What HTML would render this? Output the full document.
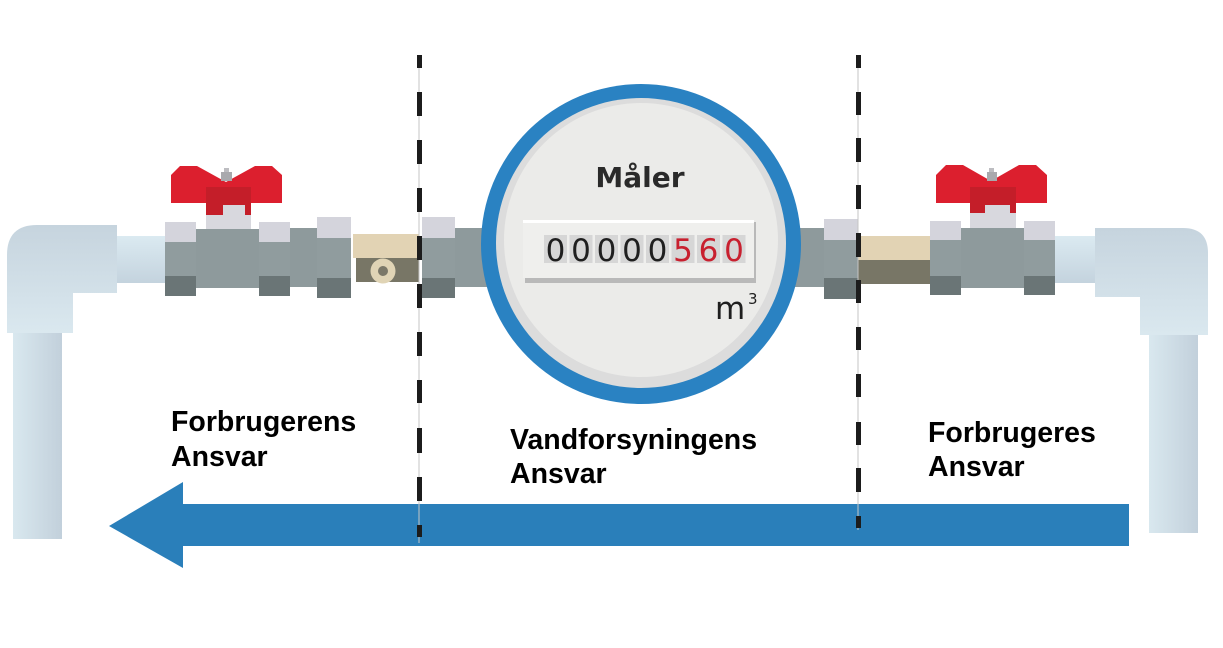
<!DOCTYPE html>
<html>
<head>
<meta charset="utf-8">
<style>
  html,body{margin:0;padding:0;background:#fff;}
  svg{display:block;}
</style>
</head>
<body>
<svg width="1223" height="648" viewBox="0 0 1223 648" xmlns="http://www.w3.org/2000/svg">
  <defs>
    <linearGradient id="elbowL" x1="0" y1="0" x2="0" y2="1">
      <stop offset="0" stop-color="#c6d4de"/>
      <stop offset="1" stop-color="#dae8ef"/>
    </linearGradient>
    <linearGradient id="vpipe" x1="0" y1="0" x2="1" y2="0">
      <stop offset="0" stop-color="#d9e8ef"/>
      <stop offset="1" stop-color="#c2d0db"/>
    </linearGradient>
    <linearGradient id="hpipe" x1="0" y1="0" x2="0" y2="1">
      <stop offset="0" stop-color="#dbeaf1"/>
      <stop offset="1" stop-color="#c4d3de"/>
    </linearGradient>
  </defs>

  <rect width="1223" height="648" fill="#fff"/>

  <!-- LEFT ELBOW & PIPES -->
  <rect x="13" y="330" width="49" height="209" fill="url(#vpipe)"/>
  <path d="M7,255 Q7,225 37,225 L117,225 L117,293 L73,293 L73,333 L7,333 Z" fill="url(#elbowL)"/>
  <rect x="117" y="236" width="48" height="47" fill="url(#hpipe)"/>

  <!-- left valve -->
  <rect x="196" y="229" width="63" height="59" fill="#8e9a9c"/>
  <rect x="165" y="222" width="31" height="20" fill="#d4d4dc"/>
  <rect x="165" y="242" width="31" height="34" fill="#909c9e"/>
  <rect x="165" y="276" width="31" height="20" fill="#6a7576"/>
  <rect x="259" y="222" width="31" height="20" fill="#d4d4dc"/>
  <rect x="259" y="242" width="31" height="34" fill="#909c9e"/>
  <rect x="259" y="276" width="31" height="20" fill="#6a7576"/>
  <rect x="206" y="213" width="45" height="16" fill="#d8d8de"/>
  <polygon points="180,166 197,166 226,182 255,166 272,166 282,175 282,203 171,203 171,175" fill="#dc1f2e"/>
  <rect x="206" y="187" width="45" height="28" fill="#c41e29"/>
  <rect x="223" y="205" width="22" height="10" fill="#d8d8de"/>
  <rect x="221" y="172" width="11" height="9" fill="#a9a9ad"/>
  <rect x="224" y="168" width="5" height="4" fill="#bdbdc1"/>

  <rect x="290" y="228" width="27" height="59" fill="#8e9a9c"/>
  <rect x="317" y="217" width="34" height="21" fill="#d4d4dc"/>
  <rect x="317" y="238" width="34" height="40" fill="#909c9e"/>
  <rect x="317" y="278" width="34" height="20" fill="#6a7576"/>
  <rect x="353" y="234" width="66" height="24" fill="#e2d3b4"/>
  <rect x="356" y="258" width="63" height="24" fill="#787666"/>
  <circle cx="383" cy="271" r="12.5" fill="#e0d4b5"/>
  <circle cx="383" cy="271" r="5" fill="#7b7868"/>

  <rect x="422" y="217" width="33" height="21" fill="#d4d4dc"/>
  <rect x="422" y="238" width="33" height="40" fill="#909c9e"/>
  <rect x="422" y="278" width="33" height="20" fill="#6a7576"/>
  <rect x="455" y="228" width="50" height="59" fill="#8e9a9c"/>

  <!-- RIGHT SIDE -->
  <rect x="780" y="228" width="44" height="59" fill="#8e9a9c"/>
  <rect x="824" y="219" width="34" height="21" fill="#d4d4dc"/>
  <rect x="824" y="240" width="34" height="38" fill="#909c9e"/>
  <rect x="824" y="278" width="34" height="21" fill="#6a7576"/>
  <rect x="858" y="236" width="72" height="24" fill="#e2d3b4"/>
  <rect x="858" y="260" width="72" height="24" fill="#787666"/>
  <rect x="961" y="228" width="63" height="60" fill="#8e9a9c"/>
  <rect x="930" y="221" width="31" height="19" fill="#d4d4dc"/>
  <rect x="930" y="240" width="31" height="36" fill="#909c9e"/>
  <rect x="930" y="276" width="31" height="19" fill="#6a7576"/>
  <rect x="1024" y="221" width="31" height="19" fill="#d4d4dc"/>
  <rect x="1024" y="240" width="31" height="36" fill="#909c9e"/>
  <rect x="1024" y="276" width="31" height="19" fill="#6a7576"/>
  <rect x="970" y="213" width="46" height="15" fill="#d8d8de"/>
  <polygon points="946,165 963,165 991,181 1019,165 1036,165 1047,175 1047,203 936,203 936,175" fill="#dc1f2e"/>
  <rect x="970" y="187" width="46" height="26" fill="#c41e29"/>
  <rect x="985" y="205" width="25" height="8" fill="#d8d8de"/>
  <rect x="987" y="172" width="10" height="9" fill="#a9a9ad"/>
  <rect x="989" y="168" width="5" height="4" fill="#bdbdc1"/>

  <rect x="1055" y="236" width="40" height="47" fill="url(#hpipe)"/>
  <rect x="1149" y="330" width="49" height="203" fill="url(#vpipe)"/>
  <path d="M1095,228 L1183,228 Q1208,228 1208,253 L1208,335 L1140,335 L1140,297 L1095,297 Z" fill="url(#elbowL)"/>

  <!-- METER -->
  <circle cx="641" cy="244" r="160" fill="#2a82c2"/>
  <circle cx="641" cy="243" r="145" fill="#dcdcdc"/>
  <circle cx="641" cy="240" r="137" fill="#ebebe9"/>
  <text x="640" y="187" text-anchor="middle" font-family="DejaVu Sans, sans-serif" font-weight="bold" font-size="28" fill="#2a2a2a">Måler</text>

  <rect x="525" y="222" width="231" height="61" fill="#b9b9b9"/>
  <rect x="523" y="220" width="231" height="58" fill="#efefed"/>
  <rect x="523" y="220" width="231" height="3" fill="#ffffff"/>
  <g fill="#d6d6d6">
    <rect x="544" y="235" width="23" height="28"/>
    <rect x="569.5" y="235" width="23" height="28"/>
    <rect x="595" y="235" width="23" height="28"/>
    <rect x="620.5" y="235" width="23" height="28"/>
    <rect x="646" y="235" width="23" height="28"/>
    <rect x="671.5" y="235" width="23" height="28"/>
    <rect x="697" y="235" width="23" height="28"/>
    <rect x="722.5" y="235" width="23" height="28"/>
  </g>
  <g font-family="DejaVu Sans, sans-serif" font-size="31" text-anchor="middle">
    <text x="555.5" y="261" fill="#1f1f1f">0</text>
    <text x="581" y="261" fill="#1f1f1f">0</text>
    <text x="606.5" y="261" fill="#1f1f1f">0</text>
    <text x="632" y="261" fill="#1f1f1f">0</text>
    <text x="657.5" y="261" fill="#1f1f1f">0</text>
    <text x="683" y="261" fill="#c8202f">5</text>
    <text x="708.5" y="261" fill="#c8202f">6</text>
    <text x="734" y="261" fill="#c8202f">0</text>
  </g>
  <text x="715" y="319" font-family="DejaVu Sans, sans-serif" font-size="31" fill="#1f1f1f">m</text>
  <text x="748" y="304" font-family="DejaVu Sans, sans-serif" font-size="15" fill="#1f1f1f">3</text>

  <!-- ARROW -->
  <polygon points="109,526 183,482 183,504 1129,504 1129,546 183,546 183,568" fill="#2a7fba"/>

  <!-- DASHED LINES -->
  <rect x="418.5" y="55" width="1" height="488" fill="#c4c4c4"/>
  <g fill="#1c1c1c">
    <rect x="417" y="55" width="5" height="13"/>
    <rect x="417" y="92" width="5" height="24"/>
    <rect x="417" y="140" width="5" height="24"/>
    <rect x="417" y="188" width="5" height="24"/>
    <rect x="417" y="236" width="5" height="24"/>
    <rect x="417" y="284" width="5" height="24"/>
    <rect x="417" y="332" width="5" height="24"/>
    <rect x="417" y="380" width="5" height="23"/>
    <rect x="417" y="428" width="5" height="25"/>
    <rect x="417" y="477" width="5" height="24"/>
    <rect x="417" y="525" width="5" height="12"/>
  </g>
  <rect x="857.5" y="55" width="1" height="475" fill="#c4c4c4"/>
  <g fill="#1c1c1c">
    <rect x="856" y="55" width="5" height="13"/>
    <rect x="856" y="92" width="5" height="23"/>
    <rect x="856" y="138" width="5" height="24"/>
    <rect x="856" y="185" width="5" height="24"/>
    <rect x="856" y="233" width="5" height="24"/>
    <rect x="856" y="280" width="5" height="23"/>
    <rect x="856" y="327" width="5" height="23"/>
    <rect x="856" y="374" width="5" height="23"/>
    <rect x="856" y="422" width="5" height="23"/>
    <rect x="856" y="468" width="5" height="24"/>
    <rect x="856" y="516" width="5" height="12"/>
  </g>

  <!-- LABELS -->
  <g font-family="Liberation Sans, Arial, sans-serif" font-weight="bold" font-size="28.5" fill="#000">
    <text x="171" y="431">Forbrugerens</text>
    <text x="171" y="466">Ansvar</text>
    <text x="510" y="449">Vandforsyningens</text>
    <text x="510" y="483">Ansvar</text>
    <text x="928" y="442">Forbrugeres</text>
    <text x="928" y="476">Ansvar</text>
  </g>
</svg>
</body>
</html>
